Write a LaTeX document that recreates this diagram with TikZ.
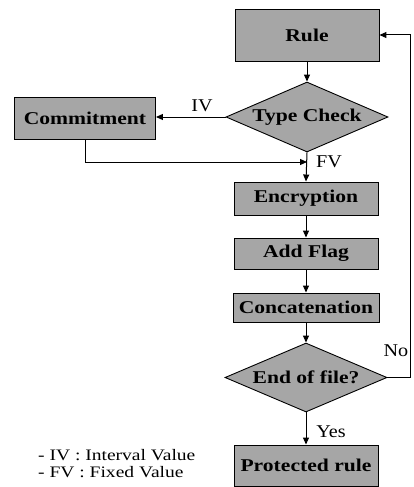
\documentclass[tikz,border=0pt]{standalone}
\usepackage{fontspec}
\setmainfont{Liberation Serif}
\newfontfamily\boxfont{Liberation Serif}[FakeStretch=1.2]
\newfontfamily\lblfont{Liberation Serif}[FakeStretch=1.12]
\newfontfamily\legfont{Liberation Serif}[FakeStretch=1.22]
\usetikzlibrary{shapes.geometric,arrows.meta}
\definecolor{boxgray}{gray}{0.65}
\tikzset{
  procbox/.style={draw=black, line width=0.9pt, fill=boxgray, rectangle, inner sep=0pt,
    minimum width=144pt, font=\boxfont\bfseries\fontsize{18}{20}\selectfont},
  decbox/.style={draw=black, line width=0.9pt, fill=boxgray, diamond, aspect=2.3, inner sep=0pt,
    minimum width=162pt, minimum height=70pt, font=\boxfont\bfseries\fontsize{18}{20}\selectfont},
  flow/.style={line width=1pt, -{Triangle[length=7pt,width=6pt]}},
  lbl/.style={inner sep=0pt, font=\lblfont\fontsize{18}{20}\selectfont},
  leg/.style={inner sep=0pt, anchor=base west, font=\legfont\fontsize{16}{18}\selectfont}
}
\begin{document}
\begin{tikzpicture}[x=1pt,y=-1pt]
\useasboundingbox (0,0) rectangle (413,487);
\node[procbox, minimum height=52pt] (rule) at (307,35) {Rule};
\node[decbox] (tc) at (307,117) {Type Check};
\node[procbox, minimum width=141pt, minimum height=42pt] (commit) at (85,118) {Commitment};
\node[procbox, minimum height=33pt] (enc) at (306,198.5) {Encryption};
\node[procbox, minimum height=31pt] (flag) at (306,253.5) {Add Flag};
\node[procbox, minimum height=29pt, minimum width=146pt] (concat) at (306,307.5) {Concatenation};
\node[decbox, minimum height=69pt] (eof) at (306,377.5) {End of file?};
\node[procbox, minimum height=41pt] (prot) at (306,465.5) {Protected rule};

\coordinate (cbend) at (commit.south |- 0,162);
\coordinate (join) at (tc.south |- 0,162);
\coordinate (loopa) at (410,0 |- eof.east);
\coordinate (loopb) at (410,0 |- rule.east);

\draw[flow] (rule) -- (tc);
\draw[flow] (tc.west) -- (commit.east |- tc.west);
\draw[flow] (commit.south) -- (cbend) -- (join);
\draw[flow] (tc.south) -- (enc.north);
\draw[flow] (enc) -- (flag);
\draw[flow] (flag) -- (concat);
\draw[flow] (concat) -- (eof.north);
\draw[flow] (eof.south) -- (prot.north);
\draw[flow] (eof.east) -- (loopa) -- (loopb) -- (rule.east);

\node[lbl] (iv) at (202,106) {IV};
\node[lbl] (fv) at (329,162) {FV};
\node[lbl] (no) at (396,351) {No};
\node[lbl] (yes) at (331,432) {Yes};

\node[leg] (leg1) at (38,460) {- IV : Interval Value};
\node[leg] (leg2) at (38,477) {- FV : Fixed Value};
\end{tikzpicture}
\end{document}
